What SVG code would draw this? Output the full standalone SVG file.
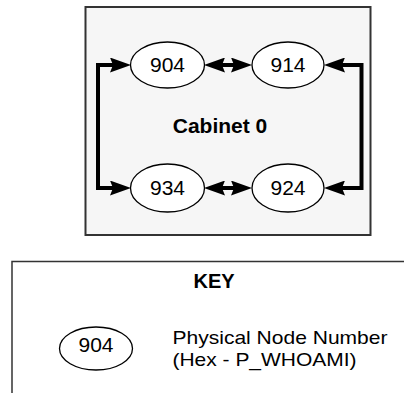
<svg xmlns="http://www.w3.org/2000/svg" width="404" height="393" viewBox="0 0 404 393">
<style>
text{font-family:"Liberation Sans",Arial,sans-serif;fill:#000}
.nt{font-size:21px;text-anchor:middle}
.b{font-weight:bold;text-anchor:middle}
.node ellipse{fill:#fff;stroke:#000;stroke-width:1.3}
.conn path{fill:none;stroke:#000;stroke-width:4}
</style>
<defs>
<marker id="ah" viewBox="0 0 21 15" refX="3" refY="7.5" markerWidth="21" markerHeight="15" markerUnits="userSpaceOnUse" orient="auto-start-reverse">
<path d="M0,0 L21,7.5 L0,15 L3,7.5 z" fill="#000"/>
</marker>
</defs>
<rect x="0" y="0" width="404" height="393" fill="#fff"/>
<g id="cabinet">
<rect x="85.5" y="7" width="285" height="228" fill="#f6f6f6" stroke="#333" stroke-width="2"/>
<text class="b" x="220" y="133" font-size="21">Cabinet 0</text>
</g>
<g class="conn" id="connectors">
<path d="M113,65 H98 V188 H113" marker-start="url(#ah)" marker-end="url(#ah)"/>
<path d="M342,65 H361.5 V188 H342" marker-start="url(#ah)" marker-end="url(#ah)"/>
<path d="M222,65 H234" marker-start="url(#ah)" marker-end="url(#ah)"/>
<path d="M222,188 H234" marker-start="url(#ah)" marker-end="url(#ah)"/>
</g>
<g class="node" id="n904"><ellipse cx="167.5" cy="65" rx="37" ry="23"/><text class="nt" x="167.5" y="72">904</text></g>
<g class="node" id="n914"><ellipse cx="288" cy="65" rx="36" ry="23"/><text class="nt" x="288" y="72">914</text></g>
<g class="node" id="n934"><ellipse cx="167.5" cy="188" rx="37" ry="24"/><text class="nt" x="167.5" y="195">934</text></g>
<g class="node" id="n924"><ellipse cx="288" cy="188" rx="36" ry="24"/><text class="nt" x="288" y="195">924</text></g>
<g id="key">
<path d="M12,393 V261.5 H404" fill="none" stroke="#333" stroke-width="1.5"/>
<text class="b" x="214" y="288" font-size="20">KEY</text>
<g class="node" id="keynode"><ellipse cx="96" cy="348.5" rx="36.5" ry="21.5"/><text class="nt" x="96" y="352" font-size="20">904</text></g>
<text x="172.5" y="344" font-size="19" textLength="215" lengthAdjust="spacingAndGlyphs">Physical Node Number</text>
<text x="172.5" y="366" font-size="19" textLength="184" lengthAdjust="spacingAndGlyphs">(Hex - P_WHOAMI)</text>
</g>
</svg>
